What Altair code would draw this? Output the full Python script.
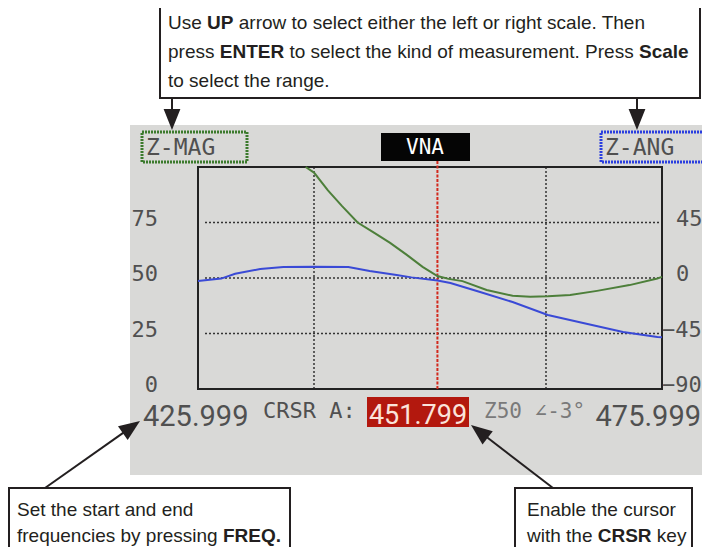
import math
import altair as alt
import pandas as pd

freq_mag = [437.6, 438.5, 440.0, 441.5, 443.2, 445.0, 446.7, 448.5, 450.2, 451.8,
            453.0, 454.5, 457.1, 459.9, 461.8, 463.7, 466.1, 469.0, 472.5, 475.5, 475.999]
z_mag = [100, 97.5, 89.5, 82.5, 75.0, 70.3, 65.8, 60.4, 55.0, 50.9,
         49.6, 48.6, 44.6, 42.0, 41.6, 41.8, 42.3, 44.2, 46.8, 49.8, 50.5]

freq_ang = [425.999, 428.5, 430.0, 432.7, 435.2, 438.5, 442.2, 444.5, 447.4, 449.0,
            451.8, 453.2, 456.4, 459.9, 463.7, 467.5, 471.8, 475.5, 475.999]
z_ang = [-2.4, -0.5, 3.5, 7.3, 8.9, 9.2, 8.9, 5.7, 2.4, 0.5,
         -2.0, -4.1, -11.4, -19.5, -30.0, -36.5, -43.8, -47.8, -48.0]

f_start, f_stop = 425.999, 475.999
cursor_freq = [451.799]
grid_freq = [438.499, 463.499]
grid_mag = [25, 50, 75]
mag_ticks = [0, 25, 50, 75]
ang_ticks = [-90, -45, 0, 45]

# ---------------- layout helpers (image px -> canvas px) ----------------
W, H = 694, 539
def P(x): return x - 8
def Q(y): return y - 8

X = alt.Scale(domain=[f_start, f_stop], range=[P(198), P(662)])
YM = alt.Scale(domain=[0, 100], range=[Q(389), Q(167)])
YA = alt.Scale(domain=[-90, 90], range=[Q(389), Q(167)])

one = pd.DataFrame({"a": [0]})
LCD = "DejaVu Sans Mono"
BIG = "Roboto"
SANS = "Liberation Sans"
INK = "#505050"
ANN = "#231f20"

layers = []

def rect(x1, y1, x2, y2, **kw):
    return alt.Chart(one).mark_rect(**kw).encode(
        x=alt.value(P(x1)), x2=alt.value(P(x2)), y=alt.value(Q(y1)), y2=alt.value(Q(y2)))

def text(x, y, s, **kw):
    kw.setdefault("baseline", "alphabetic")
    return alt.Chart(one).mark_text(text=s, **kw).encode(x=alt.value(P(x)), y=alt.value(Q(y)))

# LCD background
layers.append(rect(130, 125, 712, 475, fill="#d9d9d7"))

# grid
layers.append(alt.Chart(pd.DataFrame({"f": grid_freq})).mark_rule(
    color="#333", strokeDash=[2, 2], strokeWidth=1.5).encode(
    x=alt.X("f:Q", scale=X, axis=None), y=alt.value(Q(167)), y2=alt.value(Q(389))))
layers.append(alt.Chart(pd.DataFrame({"m": grid_mag})).mark_rule(
    color="#333", strokeDash=[2, 2], strokeWidth=1.5).encode(
    y=alt.Y("m:Q", scale=YM, axis=None), x=alt.value(P(205)), x2=alt.value(P(659))))

# frame
layers.append(alt.Chart(pd.DataFrame({"f0": [f_start], "f1": [f_stop], "m0": [0], "m1": [100]}))
              .mark_rect(fill=None, stroke="#222", strokeWidth=2).encode(
    x=alt.X("f0:Q", scale=X, axis=None), x2="f1:Q",
    y=alt.Y("m0:Q", scale=YM, axis=None), y2="m1:Q"))

# cursor
layers.append(alt.Chart(pd.DataFrame({"f": cursor_freq})).mark_rule(
    color="#d2281c", strokeDash=[3, 1.5], strokeWidth=2).encode(
    x=alt.X("f:Q", scale=X, axis=None), y=alt.value(Q(161)), y2=alt.value(Q(389))))

# traces
layers.append(alt.Chart(pd.DataFrame({"f": freq_mag, "v": z_mag})).mark_line(
    color="#4d7f3a", strokeWidth=2).encode(
    x=alt.X("f:Q", scale=X, axis=None), y=alt.Y("v:Q", scale=YM, axis=None)))
layers.append(alt.Chart(pd.DataFrame({"f": freq_ang, "a": z_ang})).mark_line(
    color="#3a4ad6", strokeWidth=2).encode(
    x=alt.X("f:Q", scale=X, axis=None), y=alt.Y("a:Q", scale=YA, axis=None)))

# left scale labels
layers.append(alt.Chart(pd.DataFrame({"v": mag_ticks})).mark_text(
    align="right", baseline="middle", dy=-4, font=LCD, fontSize=22, color=INK).encode(
    x=alt.value(P(158)), y=alt.Y("v:Q", scale=YM, axis=None), text=alt.Text("v:Q", format="d")))
# right scale labels
angdf = pd.DataFrame({"a": ang_ticks})
layers.append(alt.Chart(angdf).transform_filter("datum.a >= 0").mark_text(
    align="left", baseline="middle", dy=-4, font=LCD, fontSize=22, color=INK).encode(
    x=alt.value(P(676)), y=alt.Y("a:Q", scale=YA, axis=None), text=alt.Text("a:Q", format="d")))
layers.append(alt.Chart(angdf).transform_filter("datum.a < 0").mark_text(
    align="left", baseline="middle", dy=-4, font=LCD, fontSize=22, color=INK).encode(
    x=alt.value(P(662)), y=alt.Y("a:Q", scale=YA, axis=None), text=alt.Text("a:Q", format="d")))

# LCD header boxes
layers.append(rect(142, 132, 247, 162, fill=None, stroke="#3b7a2c", strokeWidth=3, strokeDash=[2, 1]))
layers.append(text(146, 155, "Z-MAG", font=LCD, fontSize=23, color=INK, align="left"))
layers.append(rect(381, 133, 470, 161, fill="#050505"))
layers.append(text(425, 154, "VNA", font=LCD, fontSize=21, color="#ffffff", align="center"))
layers.append(rect(601, 132, 706, 162, fill=None, stroke="#2a3ee0", strokeWidth=3, strokeDash=[2, 1]))
layers.append(text(605, 155, "Z-ANG", font=LCD, fontSize=23, color=INK, align="left"))

# LCD bottom row
layers.append(text(143, 426, f"{f_start:.3f}", font=BIG, fontSize=29, color=INK, align="left"))
layers.append(text(263, 418, "CRSR A:", font=LCD, fontSize=22, color=INK, align="left"))
layers.append(rect(367, 397, 469, 427, fill="#b3180e"))
layers.append(text(418, 424, f"{cursor_freq[0]:.3f}", font=BIG, fontSize=27, color="#fbe3da", align="center"))
layers.append(text(484, 418, "Z50 \u2220-3\u00b0", font=LCD, fontSize=21, color="#7a7a7a", align="left"))
layers.append(text(701, 426, f"{f_stop:.3f}", font=BIG, fontSize=29, color=INK, align="right"))

# ---------------- annotation call-outs ----------------
AR = {' ': 278, '.': 278, ',': 278, '-': 333, ':': 278,
      'a': 556, 'b': 556, 'c': 500, 'd': 556, 'e': 556, 'f': 278, 'g': 556, 'h': 556, 'i': 222,
      'j': 222, 'k': 500, 'l': 222, 'm': 833, 'n': 556, 'o': 556, 'p': 556, 'q': 556, 'r': 333,
      's': 500, 't': 278, 'u': 556, 'v': 500, 'w': 722, 'x': 500, 'y': 500, 'z': 500,
      'E': 667, 'P': 667, 'S': 667, 'T': 611, 'U': 722}
AB = {' ': 278, '.': 278, 'C': 722, 'E': 667, 'F': 611, 'N': 722, 'P': 667, 'Q': 778,
      'R': 722, 'S': 667, 'T': 611, 'U': 722, 'a': 556, 'c': 556, 'e': 556, 'l': 278}
FS = 19

def tw(s, bold):
    t = AB if bold else AR
    return sum(t.get(c, 556) for c in s) / 1000 * FS

def rich_line(x0, y, segs):
    x = x0
    for s, b in segs:
        lead = len(s) - len(s.lstrip())
        body = s.strip()
        if body:
            layers.append(text(x + tw(s[:lead], b), y, body, font=SANS, fontSize=FS,
                               fontWeight="bold" if b else "normal", color=ANN, align="left"))
        x += tw(s, b)

def arrow(x0, y0, x1, y1, head=21):
    d = math.hypot(x1 - x0, y1 - y0)
    ux, uy = (x1 - x0) / d, (y1 - y0) / d
    bx, by = x1 - ux * head * 0.9, y1 - uy * head * 0.9
    layers.append(alt.Chart(one).mark_rule(color=ANN, strokeWidth=2).encode(
        x=alt.value(P(x0)), y=alt.value(Q(y0)), x2=alt.value(P(bx)), y2=alt.value(Q(by))))
    ang = math.degrees(math.atan2(ux, -uy)) % 360
    cx, cy = x1 - ux * head / 2, y1 - uy * head / 2
    layers.append(alt.Chart(one).mark_point(
        shape="M0,-1L-0.8,1L0.8,1Z", filled=True, opacity=1, color=ANN,
        size=head * head, angle=ang).encode(x=alt.value(P(cx)), y=alt.value(Q(cy))))

# top box
layers.append(rect(160, 5, 700, 98, fill="white", stroke=ANN, strokeWidth=2))
rich_line(168, 29, [("Use ", False), ("UP", True), (" arrow to select either the left or right scale. Then", False)])
rich_line(168, 58, [("press ", False), ("ENTER", True), (" to select the kind of measurement. Press ", False), ("Scale", True)])
rich_line(168, 87, [("to select the range.", False)])
arrow(172, 98, 172, 130)
arrow(637, 98, 637, 130)

# bottom-left box
layers.append(rect(9, 488, 290, 570, fill="white", stroke=ANN, strokeWidth=2))
rich_line(17, 516, [("Set the start and end", False)])
rich_line(17, 542, [("frequencies by pressing ", False), ("FREQ.", True)])
arrow(45, 488, 140, 421)

# bottom-right box
layers.append(rect(515, 488, 692, 570, fill="white", stroke=ANN, strokeWidth=2))
rich_line(527, 516, [("Enable the cursor", False)])
rich_line(527, 542, [("with the ", False), ("CRSR", True), (" key", False)])
arrow(553, 488, 471, 425)

chart = alt.layer(*layers).resolve_scale(y="independent").properties(
    width=W, height=H, padding=0, autosize="none", background="white"
).configure_view(strokeWidth=0)

chart.save("out.html", embed_options={"renderer": "svg", "actions": False})
